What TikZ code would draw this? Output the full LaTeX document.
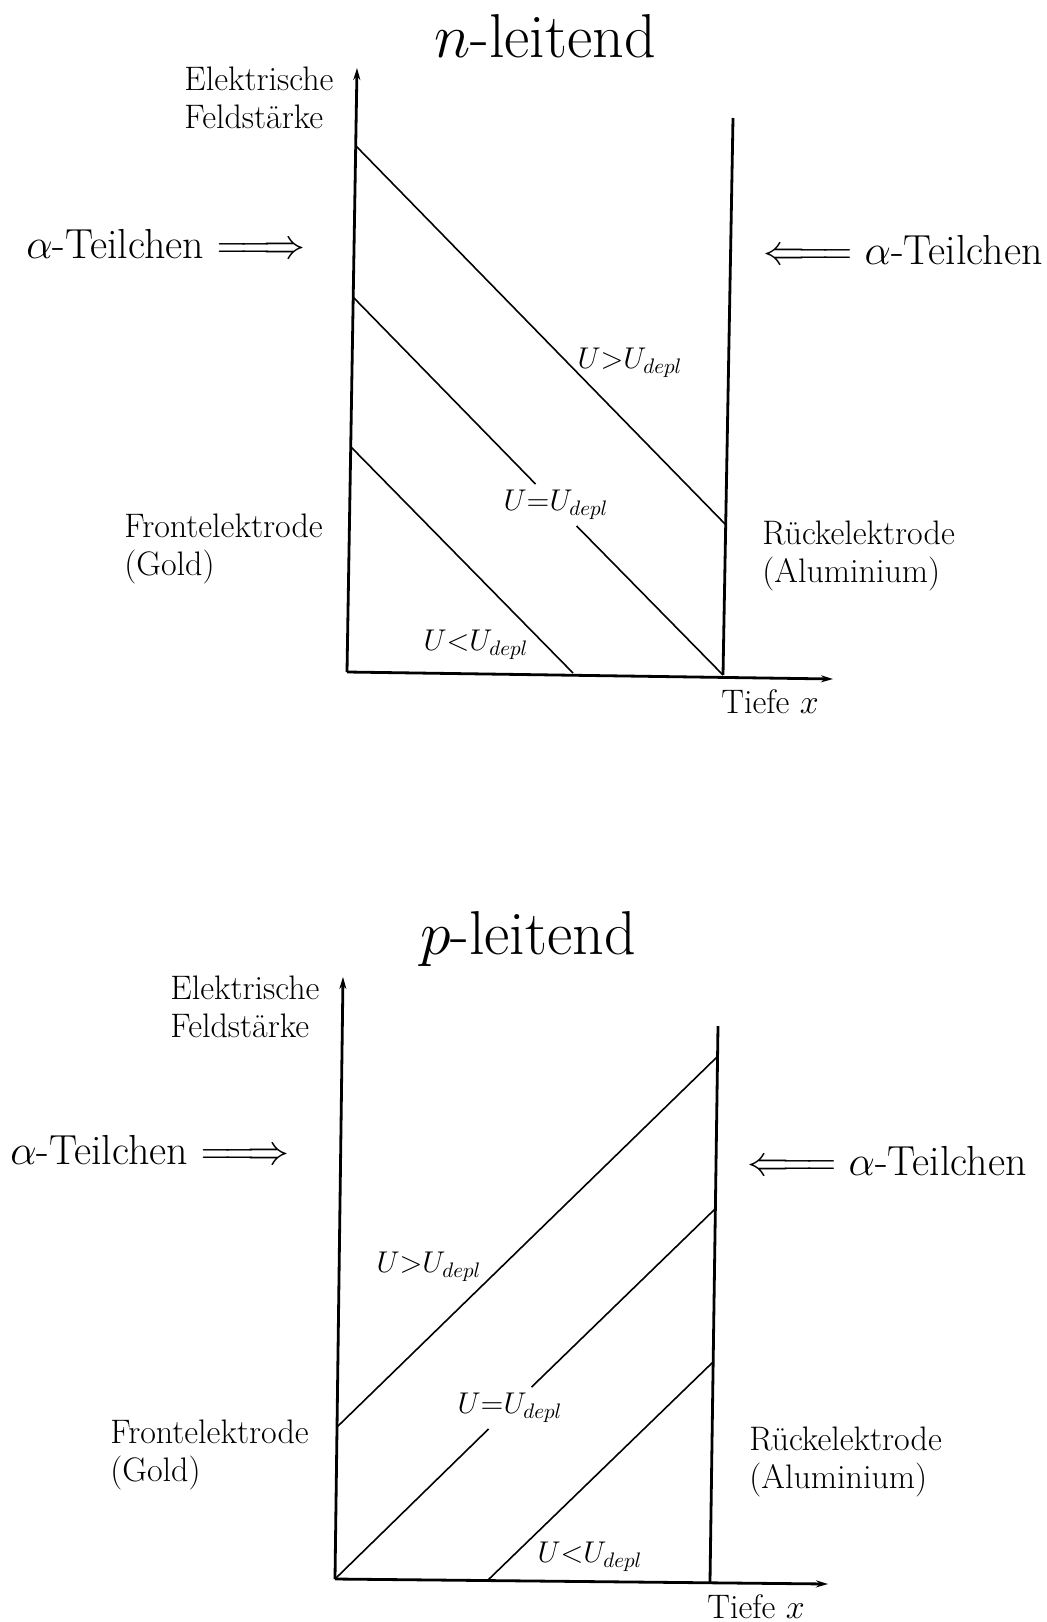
\RequirePackage{fix-cm}
\documentclass[tikz,border=0pt]{standalone}
\usepackage{amsmath}
\usepackage{tikz}
\usetikzlibrary{arrows.meta, positioning}

\tikzset{
  lbl/.style={font=\fontsize{17}{19}\selectfont, align=left, inner sep=0pt},
  ulbl/.style={font=\fontsize{15}{17}\selectfont, inner sep=3pt},
  teil/.style={font=\fontsize{21}{24}\selectfont, inner sep=0pt},
  ttl/.style={font=\fontsize{31}{34}\selectfont},
  achse/.style={line width=1.4pt},
  feld/.style={line width=0.8pt}
}

\begin{document}
\begin{tikzpicture}[x=0.5pt, y=-0.5pt]
    \useasboundingbox (0,0) rectangle (1047,1622);

    % Top: n-leitend
    \node[ttl] (T1) at (545,36) {$n$-leitend};
    \coordinate (O1) at (347,672);
    \coordinate (Y1) at (357,68);
    \coordinate (X1) at (833,679);
    \coordinate (R1b) at (723,675);
    \coordinate (R1t) at (733,118);
    \coordinate (A1) at (356,146);
    \coordinate (B1) at (726,525);
    \coordinate (A2) at (353,297);
    \coordinate (A3) at (351,447);
    \coordinate (C3) at (573,673);

    \draw[achse, -{Stealth[length=6pt, width=3.5pt]}] (O1) -- (Y1);
    \draw[achse, -{Stealth[length=6pt, width=3.5pt]}] (O1) -- (X1);
    \draw[achse] (R1b) -- (R1t);

    \node[ulbl] (Gt1) at (630,363) {$U{>}U_{depl}$};
    \node[ulbl] (Eq1) at (556,505) {$U{=}U_{depl}$};
    \node[ulbl] (Lt1) at (476,645) {$U{<}U_{depl}$};

    \draw[feld] (A1) -- (B1);
    \draw[feld] (A2) -- (Eq1) -- (R1b);
    \draw[feld] (A3) -- (C3);

    \node[lbl, anchor=west] (Fs1) at (184,98) {Elektrische\\Feldstärke};
    \node[teil, anchor=west] (Al1) at (26,244) {$\alpha$-Teilchen $\Relbar\joinrel\Longrightarrow$};
    \node[teil, anchor=east] (Ar1) at (1043,250) {$\Longleftarrow\joinrel\Relbar$ $\alpha$-Teilchen};
    \node[lbl, anchor=west] (Fe1) at (124,549) {Frontelektrode\\(Gold)};
    \node[lbl, anchor=west] (Re1) at (762,556) {Rückelektrode\\(Aluminium)};
    \node[lbl] (Tx1) at (770,702) {Tiefe $x$};

    % Bottom: p-leitend
    \node[ttl] (T2) at (528,939) {$p$-leitend};
    \coordinate (O2) at (335,1579);
    \coordinate (Y2) at (343,977);
    \coordinate (X2) at (828,1584);
    \coordinate (R2b) at (710,1582);
    \coordinate (R2t) at (718,1026);
    \coordinate (A4) at (337,1427);
    \coordinate (B4) at (717,1057);
    \coordinate (B5) at (715,1209);
    \coordinate (C6) at (487,1581);
    \coordinate (B6) at (713,1362);

    \draw[achse, -{Stealth[length=6pt, width=3.5pt]}] (O2) -- (Y2);
    \draw[achse, -{Stealth[length=6pt, width=3.5pt]}] (O2) -- (X2);
    \draw[achse] (R2b) -- (R2t);

    \node[ulbl] (Gt2) at (429,1267) {$U{>}U_{depl}$};
    \node[ulbl] (Eq2) at (510,1408) {$U{=}U_{depl}$};
    \node[ulbl] (Lt2) at (590,1557) {$U{<}U_{depl}$};

    \draw[feld] (A4) -- (B4);
    \draw[feld] (O2) -- (Eq2) -- (B5);
    \draw[feld] (C6) -- (B6);

    \node[lbl, anchor=west] (Fs2) at (170,1007) {Elektrische\\Feldstärke};
    \node[teil, anchor=west] (Al2) at (10,1150) {$\alpha$-Teilchen $\Relbar\joinrel\Longrightarrow$};
    \node[teil, anchor=east] (Ar2) at (1027,1161) {$\Longleftarrow\joinrel\Relbar$ $\alpha$-Teilchen};
    \node[lbl, anchor=west] (Fe2) at (110,1455) {Frontelektrode\\(Gold)};
    \node[lbl, anchor=west] (Re2) at (749,1462) {Rückelektrode\\(Aluminium)};
    \node[lbl] (Tx2) at (756,1607) {Tiefe $x$};
\end{tikzpicture}
\end{document}
